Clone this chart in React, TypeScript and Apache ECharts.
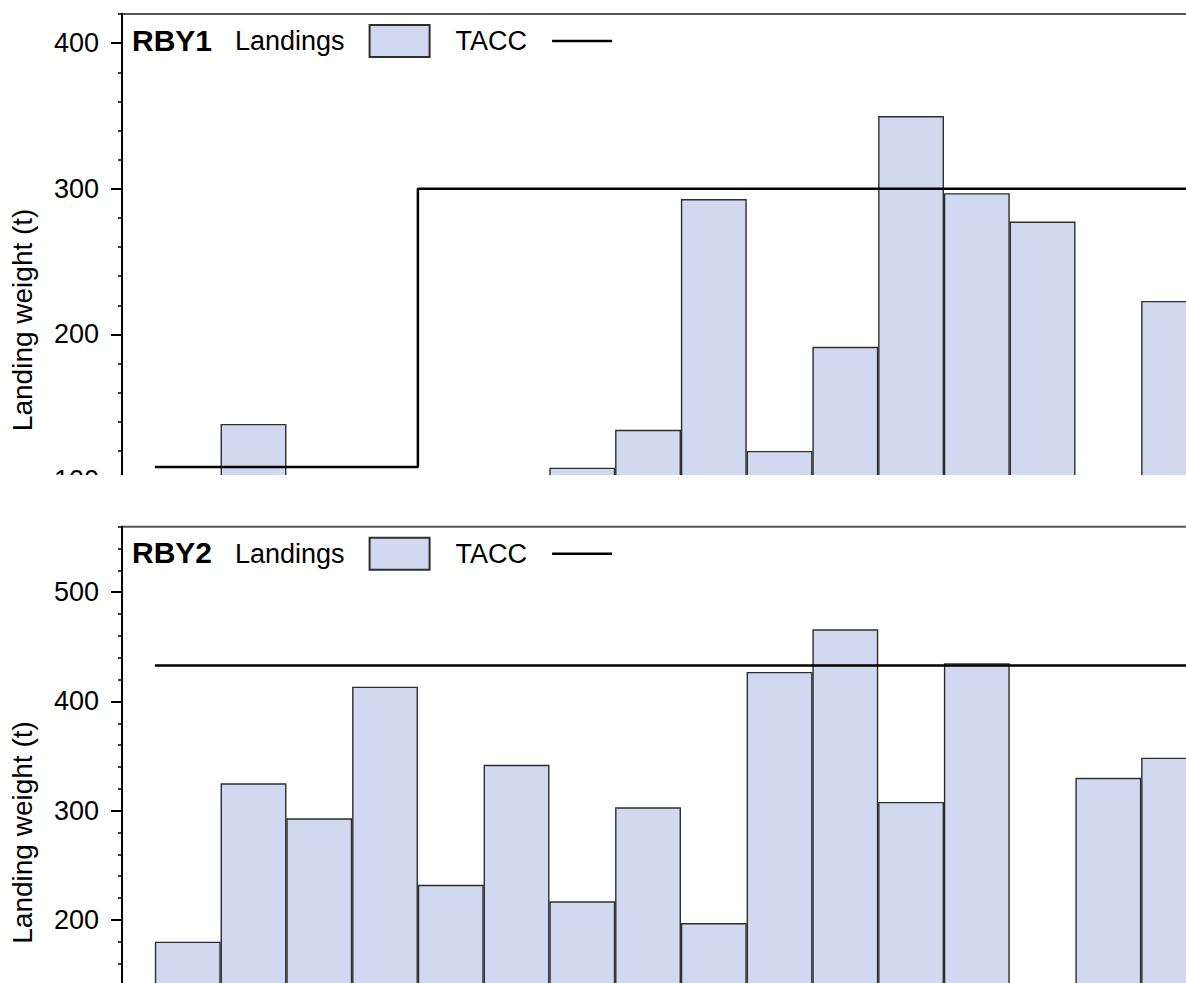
import React, { useEffect, useRef } from "react";
import * as echarts from "echarts";

// ---- data ----
const fishingYears = [
  "2001", "2002", "2003", "2004", "2005", "2006", "2007", "2008",
  "2009", "2010", "2011", "2012", "2013", "2014", "2015", "2016",
];
const rby1Landings = [null, 138.5, null, null, null, null, 108.5, 134.5, 293, 120, 191.5, 350, 297, 277.5, null, 223];
const rby1Tacc = [109, 109, 109, 109, 300, 300, 300, 300, 300, 300, 300, 300, 300, 300, 300, 300];
const rby2Landings = [180, 325, 293, 413.5, 232, 342, 217, 303, 197, 427, 466, 308, 435, null, 330, 348.5];
const rby2Tacc = [433, 433, 433, 433, 433, 433, 433, 433, 433, 433, 433, 433, 433, 433, 433, 433];
const rby1YTicks = [100, 200, 300, 400];
const rby2YTicks = [200, 300, 400, 500];

// ---- layout / style constants ----
const FONT = 'Arial, "Liberation Sans", sans-serif';
const X_MIN = -0.5;
const X_MAX = 17;
const UNIT_PX = 65.87;
const GRID_LEFT = 120;
const GRID_H = 611.5;
const BAR_FILL = "#D1D9F0";
const BAR_EDGE = "#2e2e2e";

type Panel = {
  stock: string;
  landings: (number | null)[];
  tacc: number[];
  yMax: number;
  ticks: number[];
  gridTop: number;
};

function buildOption(p: Panel): any {
  const barData = fishingYears.map((_, i) => [i + 0.5, p.landings[i] == null ? "-" : p.landings[i]]);
  const taccData: any[] = fishingYears.map((_, i) => [i, p.tacc[i]]);
  taccData.push([fishingYears.length, p.tacc[p.tacc.length - 1]]);
  return {
    animation: false,
    title: {
      text: p.stock,
      left: 132,
      top: p.gridTop + 11,
      padding: 0,
      textStyle: { fontFamily: FONT, fontSize: 30, fontWeight: "bold", color: "#000" },
    },
    legend: {
      left: 235,
      top: p.gridTop + 10,
      padding: 0,
      itemWidth: 60,
      itemHeight: 32,
      itemGap: 25,
      align: "right",
      textStyle: { fontFamily: FONT, fontSize: 27, color: "#000", padding: [0, 20, 0, 0] },
      data: [
        { name: "Landings", icon: "rect" },
        { name: "TACC", icon: "path://M0,0H60V2.5H0Z" },
      ],
    },
    grid: {
      left: GRID_LEFT,
      top: p.gridTop,
      width: (X_MAX - X_MIN) * UNIT_PX,
      height: GRID_H,
      show: true,
      borderColor: "#555",
      borderWidth: 2,
      backgroundColor: "transparent",
    },
    xAxis: { type: "value", min: X_MIN, max: X_MAX, show: false },
    yAxis: [
      {
        type: "value",
        min: 0,
        max: p.yMax,
        interval: 100,
        name: "Landing weight (t)",
        nameLocation: "middle",
        nameGap: 86,
        nameTextStyle: { fontFamily: FONT, fontSize: 28, color: "#000" },
        axisLine: { show: true, onZero: false, lineStyle: { color: "#000", width: 2 } },
        axisTick: { show: true, length: 11, customValues: p.ticks, lineStyle: { color: "#000", width: 2 } },
        axisLabel: { customValues: p.ticks, margin: 23, fontFamily: FONT, fontSize: 27, color: "#000" },
        splitLine: { show: false },
      },
      {
        type: "value",
        min: 0,
        max: p.yMax,
        interval: 20,
        position: "left",
        axisLine: { show: false, onZero: false },
        axisTick: { show: true, length: 4, lineStyle: { color: "#000", width: 1.5 } },
        axisLabel: { show: false },
        splitLine: { show: false },
      },
    ],
    series: [
      {
        name: "Landings",
        type: "bar",
        data: barData,
        barWidth: UNIT_PX,
        itemStyle: { color: BAR_FILL, borderColor: BAR_EDGE, borderWidth: 1.4 },
        z: 2,
      },
      {
        name: "TACC",
        type: "line",
        data: taccData,
        step: "end",
        symbol: "none",
        lineStyle: { color: "#000", width: 2.5 },
        itemStyle: { color: "#000" },
        z: 3,
      },
    ],
  };
}

function PanelChart({ panel, top, height }: { panel: Panel; top: number; height: number }) {
  const ref = useRef<HTMLDivElement>(null);
  useEffect(() => {
    if (!ref.current) return;
    const chart = echarts.init(ref.current, null, { renderer: "svg" });
    chart.setOption(buildOption(panel));
    return () => chart.dispose();
  }, [panel]);
  return (
    <div style={{ position: "fixed", left: 0, top, width: 1186, height, overflow: "hidden", background: "#fff" }}>
      <div ref={ref} style={{ width: 1300, height: 650 }} />
    </div>
  );
}

const panel1: Panel = { stock: "RBY1", landings: rby1Landings, tacc: rby1Tacc, yMax: 420, ticks: rby1YTicks, gridTop: 14.1 };
const panel2: Panel = { stock: "RBY2", landings: rby2Landings, tacc: rby2Tacc, yMax: 560, ticks: rby2YTicks, gridTop: 26.7 };

export default function App() {
  return (
    <div style={{ position: "fixed", left: 0, top: 0, width: 1186, height: 983, background: "#fff", overflow: "hidden" }}>
      <PanelChart panel={panel1} top={0} height={475} />
      <PanelChart panel={panel2} top={500} height={483} />
    </div>
  );
}
